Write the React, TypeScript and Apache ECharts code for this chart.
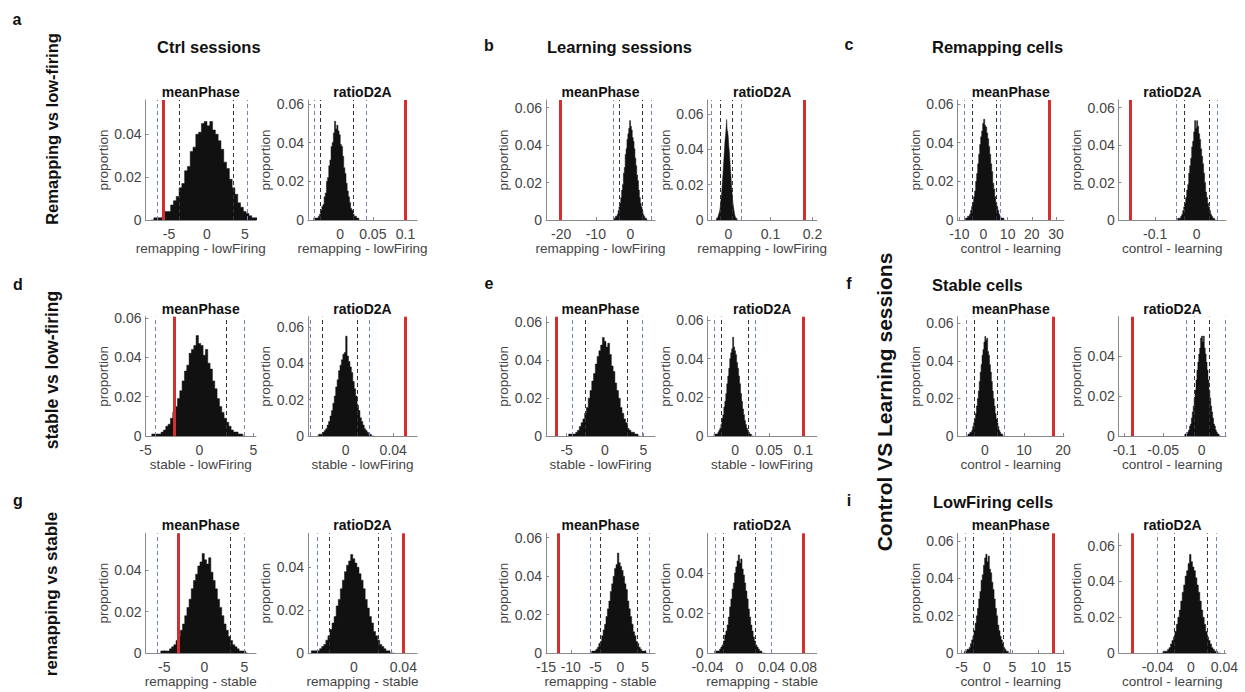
import React, { useEffect, useRef } from "react";
import * as echarts from "echarts";

const FONT = '"Liberation Sans", Arial, Helvetica, sans-serif';

// Histogram heights (proportion x 1000), one array per panel, row-major order
const hA1 = [0,1,1,1,2,4,4,7,9,11,15,17,23,25,32,34,40,41,45,46,44,46,42,40,37,33,27,24,19,15,12,8,6,4,3,2,1,1,1,0];
const hA2 = [1,1,1,1,2,3,5,7,8,12,14,20,22,28,31,38,40,45,51,47,49,46,44,39,38,33,27,24,19,15,12,9,6,5,3,2,2,1,1,0];
const hB1 = [0,1,1,2,2,3,5,7,9,12,16,19,25,28,35,38,43,46,49,53,50,48,44,42,38,33,29,24,21,16,12,9,7,5,3,2,1,1,0,0];
const hB2 = [1,1,1,2,3,4,5,7,10,13,16,21,25,30,35,40,45,48,52,57,51,50,47,42,39,34,29,25,20,16,12,9,7,5,3,2,1,1,0,0];
const hC1 = [0,1,1,2,2,3,5,7,9,12,15,20,24,29,34,39,43,46,50,52,49,48,45,42,38,34,29,25,19,16,12,9,7,5,3,2,1,1,1,0];
const hC2 = [0,1,1,1,2,3,5,7,9,12,16,19,25,29,33,39,42,47,53,49,53,50,46,43,38,34,30,25,20,15,12,9,7,5,3,2,1,1,0,0];
const hD1 = [1,1,1,1,2,3,5,6,9,12,15,19,23,28,33,36,42,44,46,51,47,46,41,44,37,34,28,24,19,15,12,9,7,5,3,2,2,1,1,0];
const hD2 = [0,1,1,1,2,3,4,6,8,11,14,18,22,27,31,36,39,42,45,46,55,44,41,38,35,30,26,22,17,14,10,8,6,4,3,2,1,1,0,0];
const hE1 = [1,1,1,1,2,3,5,7,9,12,15,20,24,29,33,38,42,45,48,52,50,47,49,43,37,34,28,24,20,15,12,9,7,4,3,2,2,1,1,0];
const hE2 = [1,1,1,1,2,3,4,6,9,11,15,18,22,27,31,35,40,43,45,51,46,44,42,38,35,31,27,22,18,14,11,8,6,4,3,2,1,1,0,0];
const hF1 = [0,1,1,2,2,3,5,7,9,12,16,20,24,29,34,38,43,46,50,53,51,52,45,43,38,34,29,24,20,16,12,9,7,5,3,2,1,1,0,0];
const hF2 = [0,1,1,1,2,3,5,6,9,12,15,19,23,28,33,37,41,44,49,50,47,50,44,41,37,33,28,23,19,15,12,9,6,5,3,2,1,1,0,0];
const hG1 = [1,1,1,1,2,3,4,6,8,11,14,18,22,26,31,35,38,42,44,48,45,43,46,39,35,31,26,22,18,14,11,8,6,4,3,2,1,1,1,0];
const hG2 = [1,1,1,1,2,3,4,6,8,11,14,17,22,25,30,34,38,41,43,46,44,42,40,37,34,30,25,21,17,14,10,8,6,4,3,2,1,1,0,0];
const hH1 = [0,1,1,1,2,3,5,6,9,12,15,19,23,27,32,36,40,44,46,52,47,45,43,40,36,33,27,23,19,15,11,9,6,5,3,2,1,1,1,0];
const hH2 = [1,1,1,1,2,3,4,6,9,11,14,18,23,27,32,35,40,43,46,49,45,47,42,39,35,31,27,22,18,14,11,8,6,4,3,2,1,1,0,0];
const hI1 = [0,1,1,2,2,3,5,7,9,12,16,20,24,29,33,39,42,47,51,53,49,52,45,43,38,34,29,24,20,15,12,9,7,5,3,2,1,1,0,0];
const hI2 = [0,1,1,1,2,3,5,7,9,12,16,20,24,29,34,38,43,46,50,55,51,48,46,42,38,34,29,24,20,16,12,9,7,5,3,2,1,1,0,0];

const heights = [hA1, hA2, hB1, hB2, hC1, hC2, hD1, hD2, hE1, hE2, hF1, hF2, hG1, hG2, hH1, hH2, hI1, hI2];

// Histogram bin start and bin width per panel
const binStart = [-7.36, -0.0402, -5.12, -0.0286, -7.82, -0.048, -4.42, -0.024, -4.74, -0.0308, -4.6, -0.023, -5.44, -0.0346, -6.06, -0.031, -4.64, -0.0352];
const binWidth = [0.368, 0.00176, 0.256, 0.00128, 0.416, 0.0024, 0.216, 0.0012, 0.232, 0.00144, 0.24, 0.0012, 0.272, 0.00168, 0.288, 0.00155, 0.232, 0.00176];

// Observed difference (red line)
const observed = [-5.8, 0.098, -20.3, 0.176, 27, -0.157, -2.36, 0.05, -6.4, 0.1, 17.5, -0.0896, -3.2, 0.0427, -12.5, 0.081, 13.0, -0.072];
// Null distribution bounds (dashed lines)
const outerLo = [-6.6, -0.041, -5.0, -0.038, -7.9, -0.048, -4.1, -0.026, -4.3, -0.03, -4.9, -0.0217, -5.9, -0.031, -6.0, -0.0315, -4.3, -0.04];
const outerHi = [5.26, 0.038, 5.9, 0.028, 7.1, 0.048, 4.1, 0.022, 4.9, 0.027, 4.9, 0.028, 5.0, 0.0327, 5.8, 0.035, 4.5, 0.034];
const innerLo = [-3.7, -0.0265, -3.3, -0.024, -4.5, -0.031, -2.4, -0.016, -2.6, -0.02, -2.7, -0.013, -3.3, -0.02, -4.1, -0.019, -2.7, -0.021];
const innerHi = [3.4, 0.02, 3.5, 0.014, 5.2, 0.028, 2.5, 0.015, 2.9, 0.018, 3.2, 0.015, 3.2, 0.0205, 3.4, 0.019, 3.1, 0.021];

// Axis limits and tick labels
const xMin = [-8.09, -0.049, -24.35, -0.0498, -10.74, -0.188, -5, -0.0317, -7.69, -0.0403, -7.05, -0.1078, -7.35, -0.0373, -15, -0.04, -5.78, -0.0868];
const xMax = [6.45, 0.1175, 7.06, 0.21, 33.3, 0.0708, 5.23, 0.06, 6.52, 0.1196, 20.26, 0.0316, 6.46, 0.0511, 7.0, 0.0965, 15.1, 0.042];
const yMax = [0.056, 0.062, 0.064, 0.068, 0.062, 0.064, 0.0606, 0.0657, 0.063, 0.0616, 0.0635, 0.0597, 0.0578, 0.0559, 0.0623, 0.0598, 0.0642, 0.0669];
const xTicks = [
  [-5, 0, 5], [0, 0.05, 0.1], [-20, -10, 0], [0, 0.1, 0.2], [-10, 0, 10, 20, 30], [-0.1, 0],
  [-5, 0, 5], [0, 0.04], [-5, 0, 5], [0, 0.05, 0.1], [0, 10, 20], [-0.1, -0.05, 0],
  [-5, 0, 5], [0, 0.04], [-15, -10, -5, 0, 5], [-0.04, 0, 0.04, 0.08], [-5, 0, 5, 10, 15], [-0.04, 0, 0.04],
];
const yTicks3 = [0, 0.02, 0.04];
const yTicks4 = [0, 0.02, 0.04, 0.06];
const yTicks = [
  yTicks3, yTicks4, yTicks4, yTicks4, yTicks4, yTicks4,
  yTicks4, yTicks4, yTicks4, yTicks4, yTicks4, yTicks3,
  yTicks3, yTicks3, yTicks4, yTicks3, yTicks4, yTicks4,
];

const panelTitles = ["meanPhase", "ratioD2A"];
const rowXLabels = [
  ["remapping - lowFiring", "remapping - lowFiring", "control - learning"],
  ["stable - lowFiring", "stable - lowFiring", "control - learning"],
  ["remapping - stable", "remapping - stable", "control - learning"],
];

// layout (pixels)
const colLeft = [145.5, 308, 546, 707.5, 957.5, 1118.7];
const colRight = [256, 417, 655, 816.7, 1064, 1226];
const rowTop = [100, 316.7, 533.3];
const rowBottom = [220, 436, 653];

const AXIS_COLOR = "#8a8a8a";
const TEXT_COLOR = "#444444";

export default function App() {
  const ref = useRef<HTMLDivElement>(null);

  useEffect(() => {
    if (!ref.current) return;
    const chart = echarts.init(ref.current, undefined, { renderer: "svg" });

    const grid: any[] = [];
    const xAxis: any[] = [];
    const yAxis: any[] = [];
    const series: any[] = [];
    const graphic: any[] = [];

    for (let i = 0; i < 18; i++) {
      const row = Math.floor(i / 6);
      const col = i % 6;
      const left = colLeft[col];
      const top = rowTop[row];
      const width = colRight[col] - left;
      const height = rowBottom[row] - top;
      grid.push({ left, top, width, height, containLabel: false });

      xAxis.push({
        type: "value",
        gridIndex: i,
        min: xMin[i],
        max: xMax[i],
        splitLine: { show: false },
        axisLine: { show: true, onZero: false, lineStyle: { color: AXIS_COLOR, width: 1 } },
        axisTick: { show: true, inside: true, length: 3, customValues: xTicks[i], lineStyle: { color: AXIS_COLOR } },
        axisLabel: { customValues: xTicks[i], color: TEXT_COLOR, fontSize: 14, fontFamily: FONT, margin: 7 },
        name: rowXLabels[row][Math.floor(col / 2)],
        nameLocation: "middle",
        nameGap: 21,
        nameTextStyle: { color: TEXT_COLOR, fontSize: 13.5, fontFamily: FONT },
      });
      yAxis.push({
        type: "value",
        gridIndex: i,
        min: 0,
        max: yMax[i],
        splitLine: { show: false },
        axisLine: { show: true, onZero: false, lineStyle: { color: AXIS_COLOR, width: 1 } },
        axisTick: { show: true, inside: true, length: 3, customValues: yTicks[i], lineStyle: { color: AXIS_COLOR } },
        axisLabel: { customValues: yTicks[i], color: TEXT_COLOR, fontSize: 14, fontFamily: FONT, margin: 4 },
        name: "proportion",
        nameLocation: "middle",
        nameGap: 30,
        nameRotate: 90,
        nameTextStyle: { color: TEXT_COLOR, fontSize: 13.5, fontFamily: FONT },
      });

      const h = heights[i];
      const data: number[][] = [[binStart[i], 0]];
      for (let j = 0; j < h.length; j++) {
        data.push([binStart[i] + j * binWidth[i], h[j] / 1000]);
      }
      data.push([binStart[i] + h.length * binWidth[i], 0]);

      const blueDash = { color: "#7088b0", width: 1, type: [4, 3] };
      const blackDash = { color: "#333333", width: 1, type: [4, 3] };

      series.push({
        type: "line",
        xAxisIndex: i,
        yAxisIndex: i,
        step: "end",
        symbol: "none",
        silent: true,
        data,
        lineStyle: { color: "#111111", width: 0.5 },
        areaStyle: { color: "#111111", opacity: 1 },
        markLine: {
          silent: true,
          symbol: ["none", "none"],
          label: { show: false },
          emphasis: { disabled: true },
          data: [
            { xAxis: outerLo[i], lineStyle: blueDash },
            { xAxis: innerLo[i], lineStyle: blackDash },
            { xAxis: innerHi[i], lineStyle: blackDash },
            { xAxis: outerHi[i], lineStyle: blueDash },
            { xAxis: observed[i], lineStyle: { color: "#d42f2f", width: 3, type: "solid" } },
          ],
        },
      });

      graphic.push({
        type: "text",
        x: left + width / 2,
        y: top - 8,
        style: {
          text: panelTitles[col % 2],
          fill: "#111",
          font: `bold 14px ${FONT}`,
          align: "center",
          verticalAlign: "middle",
        },
      });
    }

    const boldText = (text: string, x: number, y: number, size: number, align = "left", rotation = 0) => ({
      type: "text",
      x,
      y,
      rotation,
      style: { text, fill: "#111", font: `bold ${size}px ${FONT}`, align, verticalAlign: "middle" },
    });

    const letters: [string, number, number][] = [
      ["a", 17, 19], ["b", 489, 45], ["c", 849, 44],
      ["d", 18, 284], ["e", 489, 283], ["f", 849, 283],
      ["g", 18, 500], ["i", 849, 500],
    ];
    letters.forEach(([t, x, y]) => graphic.push(boldText(t, x, y, 16, "center")));

    graphic.push(boldText("Ctrl sessions", 157, 47, 16.5));
    graphic.push(boldText("Learning sessions", 547, 47, 16.5));
    graphic.push(boldText("Remapping cells", 932, 47, 16.5));
    graphic.push(boldText("Stable cells", 932, 285, 16.5));
    graphic.push(boldText("LowFiring cells", 933, 502, 16.5));

    graphic.push(boldText("Remapping vs low-firing", 51.5, 129, 16.5, "center", Math.PI / 2));
    graphic.push(boldText("stable vs low-firing", 51.5, 370, 17.5, "center", Math.PI / 2));
    graphic.push(boldText("remapping vs stable", 51.5, 594, 17, "center", Math.PI / 2));
    graphic.push(boldText("Control VS Learning sessions", 884, 402, 21, "center", Math.PI / 2));

    chart.setOption({
      animation: false,
      backgroundColor: "#ffffff",
      grid,
      xAxis,
      yAxis,
      series,
      graphic,
    });

    return () => chart.dispose();
  }, []);

  return (
    <div
      ref={ref}
      style={{ position: "absolute", left: 0, top: 0, width: 1245, height: 692 }}
    />
  );
}
